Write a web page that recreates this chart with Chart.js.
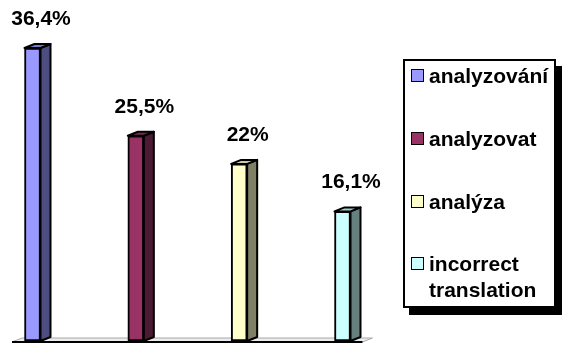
<!DOCTYPE html>
<html>
<head>
<meta charset="utf-8">
<script src="https://cdn.jsdelivr.net/npm/chart.js@4"></script>
<style>
  body { margin: 0; background: #fff; }
  #wrap { position: relative; width: 562px; height: 344px; }
  #legend {
    position: absolute; left: 403px; top: 59px; width: 149px; height: 245px;
    border: 2px solid #000; background: #fff; box-shadow: 6px 7px 0 #000;
    font: bold 21px "Liberation Sans", Arial, sans-serif; color: #000;
  }
  .item { position: absolute; left: 6px; display: flex; align-items: flex-start; line-height: 26px; }
  .box { width: 11px; height: 11px; border: 1.5px solid #000; margin: 6px 5px 0 0; flex: none; }
</style>
</head>
<body>
<div id="wrap">
  <canvas id="myChart"></canvas>
  <div id="legend"></div>
</div>
<script>
// words found in the translations
var words = ["analyzování", "analyzovat", "analýza", "incorrect translation"];
var shares = [36.4, 25.5, 22, 16.1];

var frontColors = ["#9999FF", "#993366", "#FFFFCC", "#CCFFFF"];
var sideColors = ["#4D4D80", "#4D1A33", "#808066", "#668080"];
var topColors = ["#7A7ACC", "#7A2952", "#CCCCA3", "#A3CCCC"];

var depthX = 10, depthY = 4;

// floor under the bars
var floor3d = {
  id: "floor3d",
  beforeDatasetsDraw: function (chart) {
    var ctx = chart.ctx, a = chart.chartArea;
    var y0 = chart.scales.y.getPixelForValue(0);
    var l = a.left - 20.5, r = a.right + 20;
    ctx.save();
    ctx.beginPath();
    ctx.moveTo(l, y0 + 1);
    ctx.lineTo(l + depthX, y0 - depthY + 1);
    ctx.lineTo(r + depthX, y0 - depthY + 1);
    ctx.lineTo(r, y0 + 1);
    ctx.closePath();
    ctx.fillStyle = "#ececec";
    ctx.fill();
    ctx.strokeStyle = "#a8a8a8";
    ctx.lineWidth = 1;
    ctx.beginPath();
    ctx.moveTo(l, y0 + 1);
    ctx.lineTo(l + depthX, y0 - depthY + 1);
    ctx.lineTo(r + depthX, y0 - depthY + 1);
    ctx.lineTo(r, y0 + 1);
    ctx.stroke();
    ctx.strokeStyle = "#000";
    ctx.lineWidth = 2;
    ctx.beginPath();
    ctx.moveTo(l, y0 + 1);
    ctx.lineTo(r, y0 + 1);
    ctx.stroke();
    ctx.restore();
  }
};

// side and top faces of each column, then the value labels
var bars3d = {
  id: "bars3d",
  afterDatasetsDraw: function (chart) {
    var ctx = chart.ctx;
    var meta = chart.getDatasetMeta(0);
    ctx.save();
    ctx.lineWidth = 2;
    ctx.strokeStyle = "#000";
    ctx.lineJoin = "round";
    meta.data.forEach(function (bar, i) {
      var half = bar.width / 2;
      var xr = bar.x + half, xl = bar.x - half;
      ctx.beginPath();
      ctx.moveTo(xr, bar.y);
      ctx.lineTo(xr + depthX, bar.y - depthY);
      ctx.lineTo(xr + depthX, bar.base - depthY);
      ctx.lineTo(xr, bar.base);
      ctx.closePath();
      ctx.fillStyle = sideColors[i];
      ctx.fill();
      ctx.stroke();

      ctx.beginPath();
      ctx.moveTo(xl, bar.y);
      ctx.lineTo(xl + depthX, bar.y - depthY);
      ctx.lineTo(xr + depthX, bar.y - depthY);
      ctx.lineTo(xr, bar.y);
      ctx.closePath();
      ctx.fillStyle = topColors[i];
      ctx.fill();
      ctx.stroke();

      ctx.fillStyle = "#000";
      ctx.font = "bold 21px 'Liberation Sans', Arial, sans-serif";
      ctx.textAlign = "center";
      ctx.textBaseline = "middle";
      var txt = String(shares[i]).replace(".", ",") + "%";
      ctx.fillText(txt, bar.x + 8.5, bar.y - 29);
    });
    ctx.restore();
  }
};

var myChart = document.getElementById("myChart").getContext("2d");
var chart = new Chart(myChart, {
  type: "bar",
  data: {
    labels: words,
    datasets: [
      {
        data: shares,
        backgroundColor: frontColors,
        borderColor: "#000",
        borderWidth: 2,
        borderSkipped: false,
        barThickness: 16,
        clip: false,
      },
    ],
  },
  options: {
    responsive: true,
    maintainAspectRatio: false,
    animation: false,
    layout: { padding: { left: 32.5, right: 219.5, top: 19, bottom: 3 } },
    plugins: { legend: { display: false }, tooltip: { enabled: false } },
    scales: {
      x: { display: false, offset: false, grid: { display: false } },
      y: { display: false, min: 0, max: 40 },
    },
  },
  plugins: [floor3d, bars3d],
});

// legend box on the right
var legend = document.getElementById("legend");
words.forEach(function (w, i) {
  var row = document.createElement("div");
  row.className = "item";
  row.style.top = (2 + i * 62.8) + "px";
  var box = document.createElement("span");
  box.className = "box";
  box.style.background = frontColors[i];
  var label = document.createElement("span");
  label.style.width = "125px";
  label.textContent = w;
  row.appendChild(box);
  row.appendChild(label);
  legend.appendChild(row);
});
</script>
</body>
</html>
